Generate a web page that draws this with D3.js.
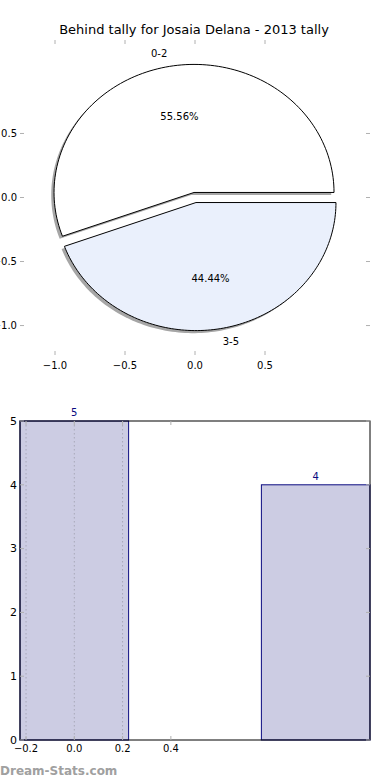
<!DOCTYPE html>
<html>
<head>
<meta charset="utf-8">
<script src="https://d3js.org/d3.v7.min.js"></script>
<style>
  body { margin: 0; background: #fff; }
  svg { display: block; font-family: "DejaVu Sans", sans-serif; }
</style>
</head>
<body>
<svg class="chart" width="390" height="780"></svg>
<script>
// data
const title = "Behind tally for Josaia Delana - 2013 tally";
const pieLabels = ["0-2", "3-5"];
const pieValues = [5, 4];
const pieColors = ["#ffffff", "#eaf0fc"];
const pieXTicks = [-1.0, -0.5, 0.0, 0.5];
const pieYTicks = [0.5, 0.0, -0.5, -1.0];

const barX = [0, 1];
const barValues = [5, 4];
const barXTicks = [-0.2, 0.0, 0.2, 0.4];
const barYTicks = [0, 1, 2, 3, 4, 5];

const svg = d3.select(".chart");
const tickGrey = "#b0b0b0";

svg.append("text")
    .attr("x", 194).attr("y", 34)
    .attr("text-anchor", "middle")
    .attr("font-size", 13)
    .text(title);

// ---- pie ----
const px = d3.scaleLinear().domain([-1.25, 1.25]).range([20, 370]);
const py = d3.scaleLinear().domain([-1.23, 1.23]).range([355, 40]);
const explode = 0.04;

const pie = d3.pie().sort(null).startAngle(0).endAngle(2 * Math.PI);
const arcs = pie(pieValues);
const total = d3.sum(pieValues);

function wedge(a, dx, dy) {
    const steps = d3.range(0, 121).map(i => a.startAngle + (a.endAngle - a.startAngle) * i / 120);
    const pts = [[dx, dy]].concat(steps.map(t => [dx + Math.cos(t), dy + Math.sin(t)]));
    return d3.line().x(d => px(d[0])).y(d => py(d[1]))(pts) + "Z";
}

const pg = svg.append("g");
arcs.forEach(a => {
    const mid = (a.startAngle + a.endAngle) / 2;
    a.ox = explode * Math.cos(mid);
    a.oy = explode * Math.sin(mid);
    a.mid = mid;
});
// shadows
pg.selectAll("path.shadow").data(arcs).enter().append("path")
    .attr("class", "shadow")
    .attr("d", a => wedge(a, a.ox - 0.02, a.oy - 0.02))
    .attr("fill", "#4d4d4d").attr("opacity", 0.5);
pg.selectAll("path.slice").data(arcs).enter().append("path")
    .attr("class", "slice")
    .attr("d", a => wedge(a, a.ox, a.oy))
    .attr("fill", (a, i) => pieColors[i])
    .attr("stroke", "#000").attr("stroke-width", 1);

pg.selectAll("text.lbl").data(arcs).enter().append("text")
    .attr("x", a => px(a.ox + 1.1 * Math.cos(a.mid)))
    .attr("y", a => py(a.oy + 1.1 * Math.sin(a.mid)))
    .attr("dy", "0.35em")
    .attr("text-anchor", a => Math.cos(a.mid) > 0 ? "start" : "end")
    .attr("font-size", 10)
    .text((a, i) => pieLabels[i]);
pg.selectAll("text.pct").data(arcs).enter().append("text")
    .attr("x", a => px(a.ox + 0.6 * Math.cos(a.mid)))
    .attr("y", a => py(a.oy + 0.6 * Math.sin(a.mid)))
    .attr("dy", "0.35em")
    .attr("text-anchor", "middle")
    .attr("font-size", 10)
    .text(a => (100 * a.value / total).toFixed(2) + "%");

// pie ticks
const fmt = d3.format(".1f");
pieXTicks.forEach(t => {
    pg.append("line").attr("x1", px(t)).attr("x2", px(t)).attr("y1", 40).attr("y2", 44).attr("stroke", tickGrey);
    pg.append("line").attr("x1", px(t)).attr("x2", px(t)).attr("y1", 351).attr("y2", 355).attr("stroke", tickGrey);
    pg.append("text").attr("x", px(t)).attr("y", 369).attr("text-anchor", "middle")
        .attr("font-size", 10).text(fmt(t).replace("-", "\u2212"));
});
pieYTicks.forEach(t => {
    pg.append("line").attr("x1", 20).attr("x2", 24).attr("y1", py(t)).attr("y2", py(t)).attr("stroke", tickGrey);
    pg.append("line").attr("x1", 366).attr("x2", 370).attr("y1", py(t)).attr("y2", py(t)).attr("stroke", tickGrey);
    pg.append("text").attr("x", 17).attr("y", py(t)).attr("dy", "0.35em").attr("text-anchor", "end")
        .attr("font-size", 10).text(fmt(t).replace("-", "\u2212"));
});

// ---- bars ----
const bw = 0.45;
const bx = d3.scaleLinear().domain([-0.225, 1.225]).range([20, 370]);
const by = d3.scaleLinear().domain([0, 5]).range([740, 421]);
const bg = svg.append("g");

bg.selectAll("rect.bar").data(barValues).enter().append("rect")
    .attr("class", "bar")
    .attr("x", (d, i) => bx(barX[i] - bw / 2))
    .attr("width", bx(bw) - bx(0))
    .attr("y", d => by(d))
    .attr("height", d => by(0) - by(d))
    .attr("fill", "#ccccE3").attr("stroke", "#0a0a80").attr("stroke-width", 1);

// dotted grid inside the first bar
barXTicks.filter(t => t >= barX[0] - bw / 2 && t <= barX[0] + bw / 2).forEach(t => {
    bg.append("line").attr("x1", bx(t)).attr("x2", bx(t)).attr("y1", by(5)).attr("y2", by(0))
        .attr("stroke", "#a8a8b8").attr("stroke-dasharray", "1.5,2.5");
});

// frame
bg.append("rect").attr("x", 20).attr("y", 421).attr("width", 350).attr("height", 319)
    .attr("fill", "none").attr("stroke", "#000").attr("stroke-width", 1);

barXTicks.forEach(t => {
    bg.append("line").attr("x1", bx(t)).attr("x2", bx(t)).attr("y1", 421).attr("y2", 425).attr("stroke", tickGrey);
    bg.append("line").attr("x1", bx(t)).attr("x2", bx(t)).attr("y1", 736).attr("y2", 740).attr("stroke", tickGrey);
    bg.append("text").attr("x", bx(t)).attr("y", 752).attr("text-anchor", "middle")
        .attr("font-size", 10).text(fmt(t).replace("-", "\u2212"));
});
barYTicks.forEach(t => {
    bg.append("line").attr("x1", 20).attr("x2", 24).attr("y1", by(t)).attr("y2", by(t)).attr("stroke", tickGrey);
    bg.append("line").attr("x1", 366).attr("x2", 370).attr("y1", by(t)).attr("y2", by(t)).attr("stroke", tickGrey);
    bg.append("text").attr("x", 17).attr("y", by(t)).attr("dy", "0.35em").attr("text-anchor", "end")
        .attr("font-size", 11).text(t);
});

bg.selectAll("text.val").data(barValues).enter().append("text")
    .attr("x", (d, i) => bx(barX[i]))
    .attr("y", d => by(d) - 5)
    .attr("text-anchor", "middle")
    .attr("font-size", 10)
    .attr("fill", "#0a0a80")
    .text(d => d);

svg.append("text")
    .attr("x", 0).attr("y", 775)
    .attr("font-size", 12).attr("font-weight", "bold")
    .attr("fill", "#a0a0a0")
    .text("Dream-Stats.com");
</script>
</body>
</html>
